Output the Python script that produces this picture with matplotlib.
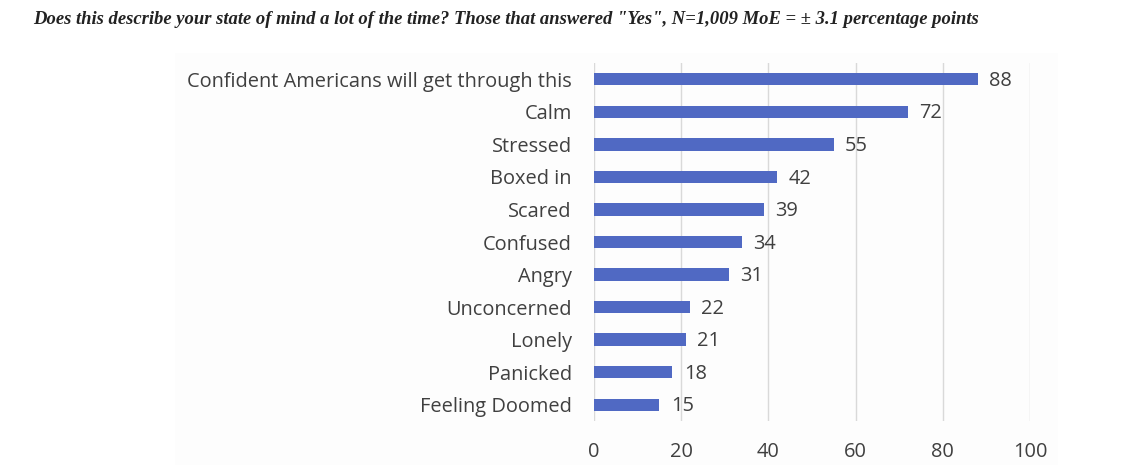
import matplotlib
matplotlib.use('Agg')
import matplotlib.pyplot as plt
from matplotlib.patches import Rectangle

# данные опроса
categories = ['Confident Americans will get through this', 'Calm', 'Stressed',
              'Boxed in', 'Scared', 'Confused', 'Angry', 'Unconcerned',
              'Lonely', 'Panicked', 'Feeling Doomed']
values = [88, 72, 55, 42, 39, 34, 31, 22, 21, 18, 15]
xticks = [0, 20, 40, 60, 80, 100]
title = ('Does this describe your state of mind a lot of the time? Those that answered '
         '"Yes", N=1,009 MoE = \u00b1 3.1 percentage points')

W, H = 1122, 471
fig = plt.figure(figsize=(W / 100, H / 100), dpi=100)
fig.patch.set_facecolor('white')

# едва заметная серая подложка под графиком
fig.patches.append(Rectangle((175 / W, 1 - 465 / H), (1058 - 175) / W, (465 - 53) / H,
                             transform=fig.transFigure, facecolor='#fdfdfd',
                             edgecolor='none', zorder=-1))

ax = fig.add_axes([594 / W, 1 - 421 / H, (1030 - 594) / W, (421 - 63) / H])
ax.set_zorder(1)
ax.set_facecolor('none')

ypos = list(range(len(categories)))
ax.barh(ypos, values, height=0.38, color='#5069c3', zorder=3)
for y, v in zip(ypos, values):
    ax.text(v + 2.6, y + 0.05, str(v), va='center', ha='left', fontsize=14.4,
            color='#404040', family='Open Sans')

ax.set_xlim(0, 100)
ax.set_ylim(len(categories) - 0.5, -0.5)
ax.set_xticks(xticks)
ax.set_yticks(ypos)
ax.set_yticklabels(categories)
ax.grid(axis='x', color='#d9d9d9', linewidth=1.0, zorder=0)
ax.set_axisbelow(True)
for s in ax.spines.values():
    s.set_visible(False)
ax.tick_params(axis='both', length=0, labelsize=14.4, labelcolor='#404040')
ax.tick_params(axis='y', pad=16)
ax.tick_params(axis='x', pad=15)
for lbl in ax.get_xticklabels() + ax.get_yticklabels():
    lbl.set_family('Open Sans')

fig.text(33 / W, 1 - 20 / H, title, ha='left', va='center', fontsize=13.4,
         family='Liberation Serif', style='italic', weight='bold', color='#222222')

fig.savefig('out.png', dpi=100)
